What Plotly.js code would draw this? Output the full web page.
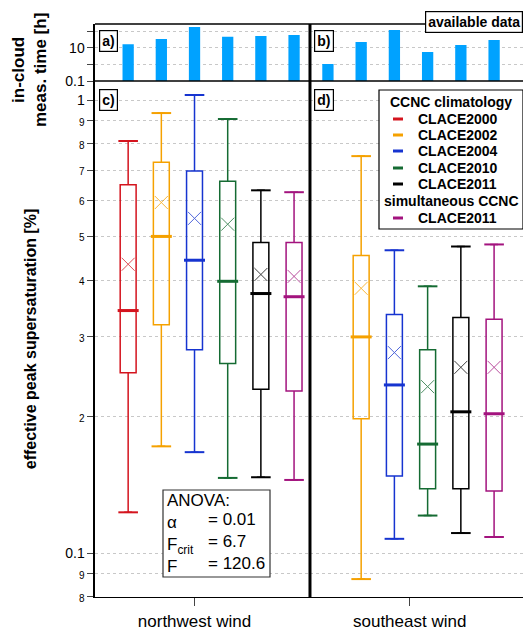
<!DOCTYPE html>
<html><head><meta charset="utf-8">
<script src="https://cdn.plot.ly/plotly-3.0.1.min.js"></script>
<style>body{margin:0}#c{width:523px;height:631px}</style>
</head><body><div id="c"></div>
<script>
const campaigns = ['CLACE2000','CLACE2002','CLACE2004','CLACE2010','CLACE2011','CLACE2011 sim.'];
const colors = ['#d4141e','#f5a100','#1634d0','#156b33','#000000','#a3137e'];
const positions = [1,2,3,4,5,6];
const nwTime = [17,35,186,47,53,61];
const seTime = [1.07,23,123,5.7,15,30];
// northwest wind (all six)
const nwLow  = [0.123,0.172,0.167,0.1465,0.147,0.145];
const nwQ1   = [0.25,0.319,0.281,0.262,0.23,0.228];
const nwMed  = [0.343,0.50,0.443,0.398,0.374,0.368];
const nwMean = [0.434,0.594,0.548,0.532,0.412,0.408];
const nwQ3   = [0.65,0.729,0.697,0.662,0.485,0.485];
const nwUp   = [0.812,0.936,1.026,0.908,0.632,0.626];
// southeast wind (no CLACE2000)
const seLow  = [null,0.0876,0.1075,0.121,0.1107,0.1085];
const seQ1   = [null,0.198,0.148,0.1386,0.1386,0.137];
const seMed  = [null,0.30,0.235,0.174,0.205,0.203];
const seMean = [null,0.384,0.277,0.233,0.257,0.257];
const seQ3   = [null,0.454,0.336,0.281,0.331,0.328];
const seUp   = [null,0.752,0.466,0.388,0.475,0.48];
const yTickVals = [0.08,0.09,0.1,0.2,0.3,0.4,0.5,0.6,0.7,0.8,0.9,1];
const yTickText = ['8','9','0.1','2','3','4','5','6','7','8','9','1'];

const traces = [];
function panel(xa, low,q1,med,mean,q3,up){
  for(let i=0;i<6;i++){
    if(med[i]==null) continue;
    const c=colors[i];
    traces.push({type:'box',xaxis:xa,yaxis:'y',x:[positions[i]],q1:[q1[i]],median:[med[i]],q3:[q3[i]],
      lowerfence:[low[i]],upperfence:[up[i]],width:0.48,fillcolor:'rgba(0,0,0,0)',
      line:{color:c,width:1.5},showlegend:false,hoverinfo:'skip'});
    traces.push({type:'scatter',mode:'markers',xaxis:xa,yaxis:'y',x:[positions[i],positions[i]],y:[low[i],up[i]],
      marker:{symbol:'line-ew',size:14,line:{color:c,width:2}},showlegend:false,hoverinfo:'skip'});
    traces.push({type:'scatter',mode:'markers',xaxis:xa,yaxis:'y',x:[positions[i]],y:[med[i]],
      marker:{symbol:'line-ew',size:15,line:{color:c,width:3}},showlegend:false,hoverinfo:'skip'});
    traces.push({type:'scatter',mode:'markers',xaxis:xa,yaxis:'y',x:[positions[i]],y:[mean[i]],
      marker:{symbol:'x-thin',size:13,line:{color:c,width:1}},opacity:0.75,showlegend:false,hoverinfo:'skip'});
  }
}
panel('x',nwLow,nwQ1,nwMed,nwMean,nwQ3,nwUp);
panel('x2',seLow,seQ1,seMed,seMean,seQ3,seUp);
traces.push({type:'bar',xaxis:'x3',yaxis:'y3',x:positions,y:nwTime,width:0.34,marker:{color:'#00a2ff'},showlegend:false});
traces.push({type:'bar',xaxis:'x4',yaxis:'y3',x:positions,y:seTime,width:0.34,marker:{color:'#00a2ff'},showlegend:false});

const F='Liberation Sans, Arial, sans-serif';
const yb=[0.0539,0.8716], yt=[0.8716,0.962];
const xl=[0.1816,0.5927], xr=[0.5927,1];
const grid={showgrid:true,gridcolor:'#c8c8c8',griddash:'dot',gridwidth:1};
const layout={
  width:523,height:631,margin:{l:0,r:0,t:0,b:0},paper_bgcolor:'white',plot_bgcolor:'white',
  font:{family:F,color:'#000'},
  xaxis:{domain:xl,anchor:'y',range:[0,6.48],tickvals:[3],ticktext:['northwest wind'],tickfont:{size:17},
    ticks:'outside',ticklen:8,showline:true,linewidth:1.5,linecolor:'#000',showgrid:false,zeroline:false},
  xaxis2:{domain:xr,anchor:'y',range:[0.46,6.87],tickvals:[3.46],ticktext:['southeast wind'],tickfont:{size:17},
    ticks:'outside',ticklen:8,showline:true,linewidth:1.5,linecolor:'#000',showgrid:false,zeroline:false},
  xaxis3:{domain:xl,anchor:'y3',range:[0,6.48],showticklabels:false,showline:false,showgrid:false,zeroline:false},
  xaxis4:{domain:xr,anchor:'y3',range:[0.46,6.87],showticklabels:false,showline:false,showgrid:false,zeroline:false},
  yaxis:Object.assign({domain:yb,anchor:'x',type:'log',range:[-1.097,0.042],tickvals:yTickVals,
    ticktext:yTickText.map((t,i)=> (t==='0.1'||t==='1')? t : '<span style="font-size:10px">'+t+'</span>'),
    tickfont:{size:14},ticks:'outside',ticklen:6,showline:true,linewidth:1.5,linecolor:'#000',zeroline:false,
    title:{text:'<b>effective peak supersaturation [%]</b>',font:{size:16},standoff:24}},grid),
  yaxis3:Object.assign({domain:yt,anchor:'x3',type:'log',range:[-1,2.45],tickvals:[0.1,1,10,100],ticktext:['0.1',' ','10',' '],
    tickfont:{size:14},ticks:'outside',ticklen:6,showline:true,linewidth:1.5,linecolor:'#000',zeroline:false},grid),
  shapes:[
    {type:'line',xref:'paper',yref:'paper',x0:0.5927,x1:0.5927,y0:0.0539,y1:0.962,line:{color:'#000',width:3}},
    {type:'line',xref:'paper',yref:'paper',x0:0.1816,x1:1,y0:0.8716,y1:0.8716,line:{color:'#000',width:1.5}},
    {type:'line',xref:'paper',yref:'paper',x0:0.1816,x1:0.815,y0:0.962,y1:0.962,line:{color:'#000',width:1.5}},
    {type:'rect',xref:'paper',yref:'paper',x0:379/523,x1:1,y0:1-229/631,y1:1-90/631,line:{color:'#000',width:1.2},fillcolor:'white',layer:'above'},
    {type:'rect',xref:'paper',yref:'paper',x0:163/523,x1:270/523,y0:1-577/631,y1:1-490/631,line:{color:'#333',width:1.2},fillcolor:'white'}
  ],
  annotations:[]
};
const A=layout.annotations;
A.push({xref:'paper',yref:'paper',x:30/523,y:1-70/631,textangle:-90,text:'<b>in-cloud<br>meas. time [h]</b>',showarrow:false,
  font:{size:17},xanchor:'center',yanchor:'middle'});
function box(txt,x,y){A.push({xref:'paper',yref:'paper',x:x/523,y:1-y/631,text:'<b>'+txt+'</b>',showarrow:false,
  font:{size:14},bordercolor:'#000',borderwidth:1.2,borderpad:2,bgcolor:'white',xanchor:'left',yanchor:'middle'});}
box('a)',99,41); box('b)',314,41); box('c)',99,100); box('d)',314,100);
A.push({xref:'paper',yref:'paper',x:1,y:1-22/631,text:'<b>available data</b>',showarrow:false,font:{size:14},
  bordercolor:'#000',borderwidth:1.2,borderpad:2,bgcolor:'white',xanchor:'right',yanchor:'middle'});
// legend
A.push({xref:'paper',yref:'paper',x:451/523,y:1-102/631,text:'<b>CCNC climatology</b>',showarrow:false,font:{size:14},xanchor:'center',yanchor:'middle'});
A.push({xref:'paper',yref:'paper',x:451/523,y:1-201/631,text:'<b>simultaneous CCNC</b>',showarrow:false,font:{size:14},xanchor:'center',yanchor:'middle'});
const legY=[119,135,151,168,184,218];
const legT=['CLACE2000','CLACE2002','CLACE2004','CLACE2010','CLACE2011','CLACE2011'];
legY.forEach((y,i)=>{
  A.push({xref:'paper',yref:'paper',x:416/523,y:1-y/631,text:'<b>'+legT[i]+'</b>',showarrow:false,font:{size:14},xanchor:'left',yanchor:'middle'});
  layout.shapes.push({type:'line',xref:'paper',yref:'paper',x0:393/523,x1:403/523,y0:1-y/631,y1:1-y/631,line:{color:colors[i],width:3},layer:'above'});
});
// ANOVA
A.push({xref:'paper',yref:'paper',x:165/523,y:1-533/631,align:'left',xanchor:'left',yanchor:'middle',showarrow:false,font:{size:17},
  text:'ANOVA:<br>α<br>F<sub>crit</sub><br>F'});
A.push({xref:'paper',yref:'paper',x:206/523,y:1-541/631,align:'left',xanchor:'left',yanchor:'middle',showarrow:false,font:{size:17},
  text:'= 0.01<br>= 6.7<br>= 120.6'});
Plotly.newPlot('c',traces,layout,{staticPlot:true});
</script></body></html>
